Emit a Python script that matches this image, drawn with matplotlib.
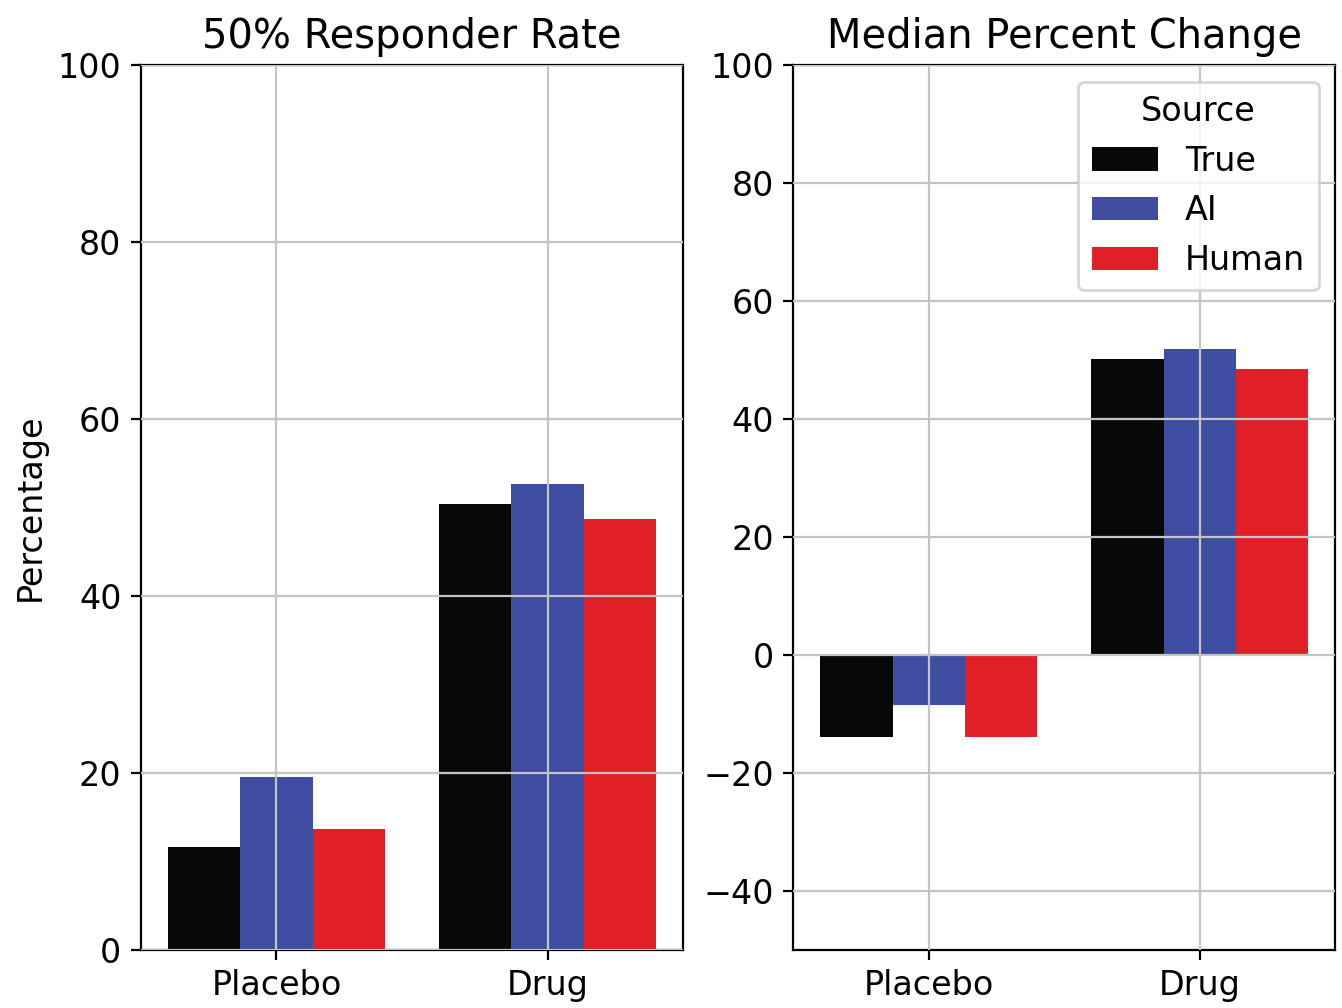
import numpy as np
import matplotlib.pyplot as plt

# === Data ===
groups = ["Placebo", "Drug"]
sources = ["True", "AI", "Human"]
colors = ["#070808", "#3f4da0", "#e02026"]

responder_true = [11.6, 50.4]
responder_ai = [19.5, 52.7]
responder_human = [13.7, 48.7]

median_true = [-13.9, 50.2]
median_ai = [-8.5, 51.9]
median_human = [-13.9, 48.5]

responder = [responder_true, responder_ai, responder_human]
median = [median_true, median_ai, median_human]

plt.rcParams["font.size"] = 12

# === Figure ===
fig = plt.figure(figsize=(6.71, 5.04), dpi=200)
ax1 = fig.add_axes([0.105, 0.0575, 0.404, 0.878])
ax2 = fig.add_axes([0.591, 0.0575, 0.404, 0.878])

x = np.arange(len(groups))
w = 0.8 / 3

for ax, data in [(ax1, responder), (ax2, median)]:
    for i, (src, vals) in enumerate(zip(sources, data)):
        ax.bar(x + (i - 1) * w, vals, width=w, color=colors[i], label=src)
    ax.set_xticks(x)
    ax.set_xticklabels(groups)
    ax.set_xlim(-0.5, 1.5)
    ax.grid(True, color="#c4c4c4", linewidth=0.8)
    ax.set_axisbelow(False)

ax1.set_ylim(0, 100)
ax1.set_yticks([0, 20, 40, 60, 80, 100])
ax1.set_title("50% Responder Rate")
ax1.set_ylabel("Percentage")

ax2.set_ylim(-50, 100)
ax2.set_yticks([-40, -20, 0, 20, 40, 60, 80, 100])
ax2.set_title("Median Percent Change")
ax2.legend(title="Source", loc="upper right")

fig.savefig("out.png", dpi=200)
